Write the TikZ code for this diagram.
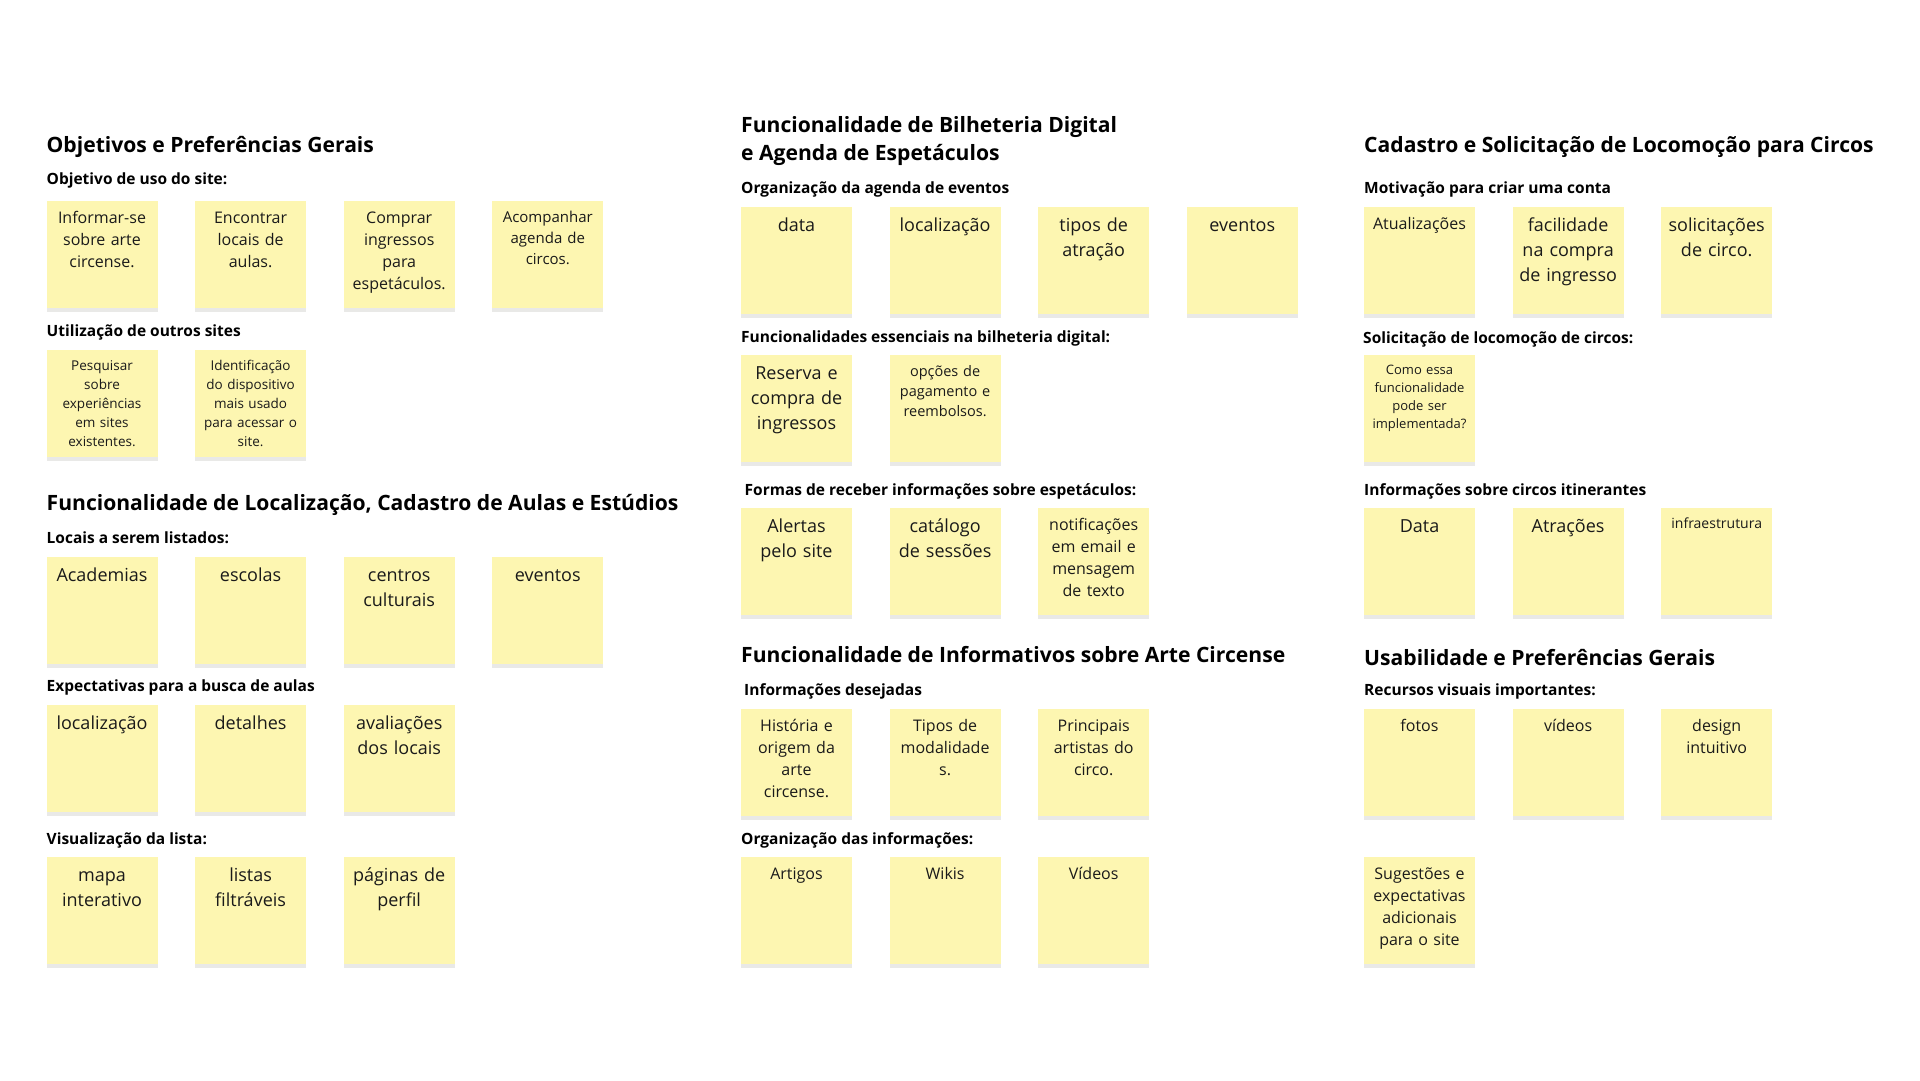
\documentclass[tikz,border=0pt]{standalone}
\usepackage{fontspec}
\setmainfont{Open Sans}
\usetikzlibrary{positioning,shadows}
\definecolor{stickyyellow}{HTML}{FDF6B1}
\definecolor{stickyshade}{HTML}{E9E9E7}
\definecolor{inktext}{HTML}{1A1A1A}

\begin{document}
\begin{tikzpicture}[
    x=1pt, y=-1pt,
    node distance=37.6pt,
    heading/.style={anchor=base west, inner sep=0pt, align=left,
                    font=\bfseries\fontsize{21.1}{28.7}\selectfont},
    question/.style={anchor=base west, inner sep=0pt,
                     font=\bfseries\fontsize{15.5}{19}\selectfont},
    sticky/.style={fill=stickyyellow, minimum width=111pt, minimum height=107pt,
                   inner sep=0pt, outer sep=0pt,
                   general shadow={fill=stickyshade, shadow yshift=-4pt}},
    memo/.style={inner sep=0pt, text width=110pt, align=center, text=inktext,
                 execute at begin node=\strut, below=7pt of #1.north},
    big/.style={font=\fontsize{18}{25}\selectfont},
    mid/.style={font=\fontsize{16}{22}\selectfont},
    midsm/.style={font=\fontsize{15}{21}\selectfont},
    small/.style={font=\fontsize{14.5}{20}\selectfont},
    tiny/.style={font=\fontsize{13.5}{19}\selectfont},
]
\fill[white] (0,0) rectangle (1920,1080);
\useasboundingbox (0,0) rectangle (1920,1080);

% Objetivos e Preferências Gerais
\node[heading] (t1) at (46.5,152.1) {Objetivos e Preferências Gerais};
\node[question] (q1) at (46.5,184.5) {Objetivo de uso do site:};
\node[sticky, anchor=north west] (obj1) at (46.5,201) {};
\node[sticky, right=of obj1] (obj2) {};
\node[sticky, right=of obj2] (obj3) {};
\node[sticky, right=of obj3] (obj4) {};
\node[memo=obj1, mid] (obj1t) {Informar-se\\sobre arte\\circense.};
\node[memo=obj2, mid] (obj2t) {Encontrar\\locais de\\aulas.};
\node[memo=obj3, mid] (obj3t) {Comprar\\ingressos\\para\\espetáculos.};
\node[memo=obj4, midsm] (obj4t) {Acompanhar\\agenda de\\circos.};

\node[question] (q2) at (46.5,336.5) {Utilização de outros sites};
\node[sticky, anchor=north west] (out1) at (46.5,350) {};
\node[sticky, right=of out1] (out2) {};
\node[memo=out1, tiny] (out1t) {Pesquisar\\sobre\\experiências\\em sites\\existentes.};
\node[memo=out2, tiny] (out2t) {Identificação\\do dispositivo\\mais usado\\para acessar o\\site.};

% Funcionalidade de Localização
\node[heading] (t2) at (46.5,510.9) {Funcionalidade de Localização, Cadastro de Aulas e Estúdios};
\node[question] (q3) at (46.5,543.5) {Locais a serem listados:};
\node[sticky, anchor=north west] (loc1) at (46.5,556.5) {};
\node[sticky, right=of loc1] (loc2) {};
\node[sticky, right=of loc2] (loc3) {};
\node[sticky, right=of loc3] (loc4) {};
\node[memo=loc1, big] (loc1t) {Academias};
\node[memo=loc2, big] (loc2t) {escolas};
\node[memo=loc3, big] (loc3t) {centros\\culturais};
\node[memo=loc4, big] (loc4t) {eventos};

\node[question] (q4) at (46.5,691.8) {Expectativas para a busca de aulas};
\node[sticky, anchor=north west] (exp1) at (46.5,705) {};
\node[sticky, right=of exp1] (exp2) {};
\node[sticky, right=of exp2] (exp3) {};
\node[memo=exp1, big] (exp1t) {localização};
\node[memo=exp2, big] (exp2t) {detalhes};
\node[memo=exp3, big] (exp3t) {avaliações\\dos locais};

\node[question] (q5) at (46.5,844.5) {Visualização da lista:};
\node[sticky, anchor=north west] (lis1) at (46.5,857) {};
\node[sticky, right=of lis1] (lis2) {};
\node[sticky, right=of lis2] (lis3) {};
\node[memo=lis1, big] (lis1t) {mapa\\interativo};
\node[memo=lis2, big] (lis2t) {listas\\filtráveis};
\node[memo=lis3, big] (lis3t) {páginas de\\perfil};

% Bilheteria Digital e Agenda
\node[heading, anchor=north west] (t3) at (741,115.8) {Funcionalidade de Bilheteria Digital\\e Agenda de Espetáculos};
\node[question] (q6) at (741,193.5) {Organização da agenda de eventos};
\node[sticky, anchor=north west] (age1) at (741,207) {};
\node[sticky, right=of age1] (age2) {};
\node[sticky, right=of age2] (age3) {};
\node[sticky, right=of age3] (age4) {};
\node[memo=age1, big] (age1t) {data};
\node[memo=age2, big] (age2t) {localização};
\node[memo=age3, big] (age3t) {tipos de\\atração};
\node[memo=age4, big] (age4t) {eventos};

\node[question] (q7) at (741,342.5) {Funcionalidades essenciais na bilheteria digital:};
\node[sticky, anchor=north west] (ess1) at (741,355) {};
\node[sticky, right=of ess1] (ess2) {};
\node[memo=ess1, big] (ess1t) {Reserva e\\compra de\\ingressos};
\node[memo=ess2, small] (ess2t) {opções de\\pagamento e\\reembolsos.};

\node[question] (q8) at (744.5,495.5) {Formas de receber informações sobre espetáculos:};
\node[sticky, anchor=north west] (rec1) at (741,507.5) {};
\node[sticky, right=of rec1] (rec2) {};
\node[sticky, right=of rec2] (rec3) {};
\node[memo=rec1, big] (rec1t) {Alertas\\pelo site};
\node[memo=rec2, big] (rec2t) {catálogo\\de sessões};
\node[memo=rec3, mid] (rec3t) {notificações\\em email e\\mensagem\\de texto};

% Informativos sobre Arte Circense
\node[heading] (t4) at (741,662.6) {Funcionalidade de Informativos sobre Arte Circense};
\node[question] (q9) at (744,695.5) {Informações desejadas};
\node[sticky, anchor=north west] (inf1) at (741,708.5) {};
\node[sticky, right=of inf1] (inf2) {};
\node[sticky, right=of inf2] (inf3) {};
\node[memo=inf1, mid] (inf1t) {História e\\origem da\\arte\\circense.};
\node[memo=inf2, mid] (inf2t) {Tipos de\\modalidade\\s.};
\node[memo=inf3, mid] (inf3t) {Principais\\artistas do\\circo.};

\node[question] (q10) at (741,844.5) {Organização das informações:};
\node[sticky, anchor=north west] (org1) at (741,857) {};
\node[sticky, right=of org1] (org2) {};
\node[sticky, right=of org2] (org3) {};
\node[memo=org1, mid] (org1t) {Artigos};
\node[memo=org2, mid] (org2t) {Wikis};
\node[memo=org3, mid] (org3t) {Vídeos};

% Cadastro e Locomoção
\node[heading] (t5) at (1364,152.1) {Cadastro e Solicitação de Locomoção para Circos};
\node[question] (q11) at (1364,193.5) {Motivação para criar uma conta};
\node[sticky, anchor=north west] (mot1) at (1364,207) {};
\node[sticky, right=of mot1] (mot2) {};
\node[sticky, right=of mot2] (mot3) {};
\node[memo=mot1, mid] (mot1t) {Atualizações};
\node[memo=mot2, big] (mot2t) {facilidade\\na compra\\de ingresso};
\node[memo=mot3, big] (mot3t) {solicitações\\de circo.};

\node[question] (q12) at (1363,343) {Solicitação de locomoção de circos:};
\node[sticky, anchor=north west] (sol1) at (1364,355) {};
\node[memo=sol1, font=\fontsize{13}{18}\selectfont] (sol1t) {Como essa\\funcionalidade\\pode ser\\implementada?};

\node[question] (q13) at (1364,495.5) {Informações sobre circos itinerantes};
\node[sticky, anchor=north west] (iti1) at (1364,507.5) {};
\node[sticky, right=of iti1] (iti2) {};
\node[sticky, right=of iti2] (iti3) {};
\node[memo=iti1, big] (iti1t) {Data};
\node[memo=iti2, big] (iti2t) {Atrações};
\node[memo=iti3, font=\fontsize{14}{19.5}\selectfont] (iti3t) {infraestrutura};

% Usabilidade
\node[heading] (t6) at (1364,665.4) {Usabilidade e Preferências Gerais};
\node[question] (q14) at (1364,695.5) {Recursos visuais importantes:};
\node[sticky, anchor=north west] (vis1) at (1364,708.5) {};
\node[sticky, right=of vis1] (vis2) {};
\node[sticky, right=of vis2] (vis3) {};
\node[memo=vis1, mid] (vis1t) {fotos};
\node[memo=vis2, mid] (vis2t) {vídeos};
\node[memo=vis3, mid] (vis3t) {design\\intuitivo};
\node[sticky, anchor=north west] (sug1) at (1364,857) {};
\node[memo=sug1, mid] (sug1t) {Sugestões e\\expectativas\\adicionais\\para o site};
\end{tikzpicture}
\end{document}
